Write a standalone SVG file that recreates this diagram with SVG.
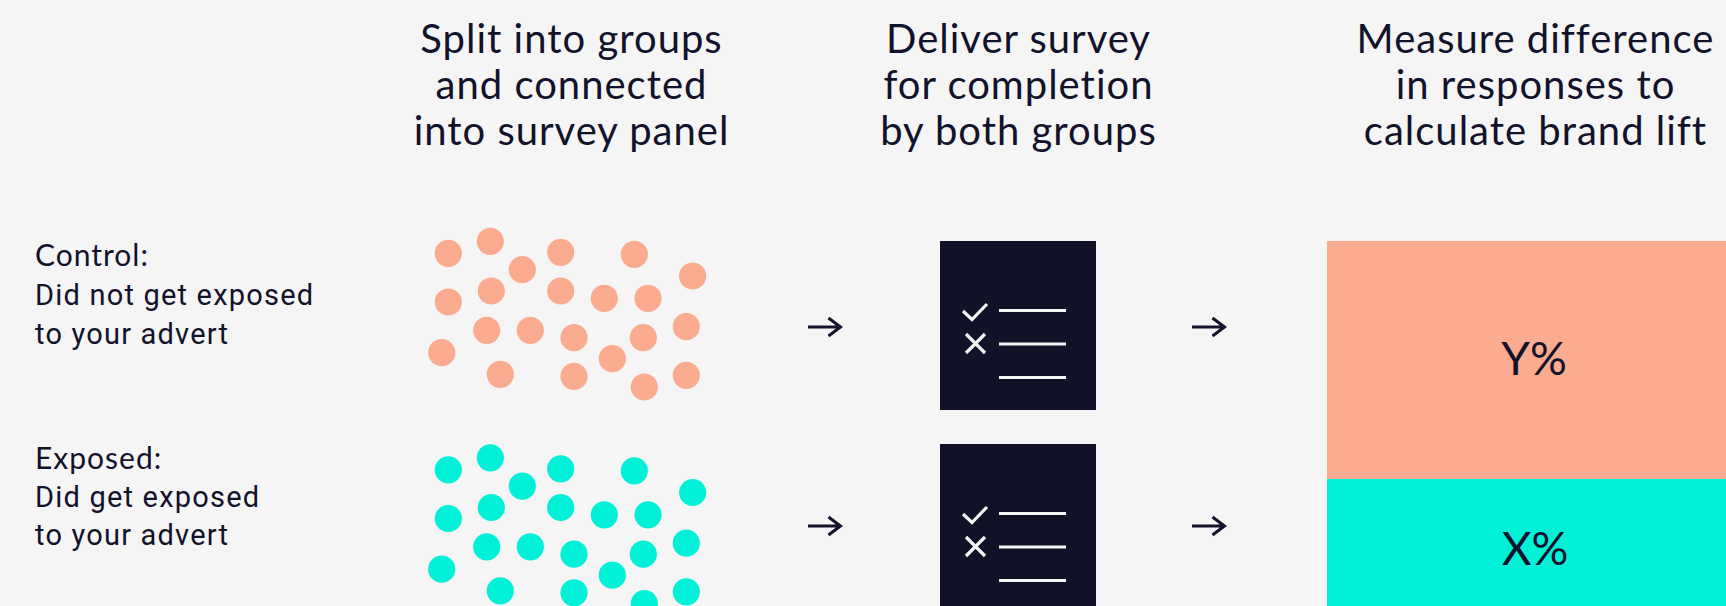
<svg xmlns="http://www.w3.org/2000/svg" width="1726" height="606" viewBox="0 0 1726 606">
<style>
.bg{fill:#f5f5f5}
.title{font-family:Lato,"Open Sans",sans-serif;font-size:40px;letter-spacing:1px;fill:#12122a;text-anchor:middle}
.head{font-family:Lato,"Open Sans",sans-serif;font-size:30px;letter-spacing:1px;fill:#12122a}
.body{font-family:Roboto,"Liberation Sans",sans-serif;font-size:29px;letter-spacing:1.2px;fill:#12122a}
.pct{font-family:Lato,"Open Sans",sans-serif;font-size:46px;fill:#12122a;text-anchor:middle}
.box{fill:#111128}
.ico{stroke:#f5f5f5;stroke-width:3.2;fill:none}
.arr{stroke:#12122a;stroke-width:3;fill:none}
.o{fill:#fbab8f}
.t{fill:#00f0d8}
</style>
<defs>
<g id="dots">
<circle cx="448.3" cy="253.3" r="13.6"/>
<circle cx="490.3" cy="241.3" r="13.6"/>
<circle cx="522.3" cy="269.7" r="13.6"/>
<circle cx="560.7" cy="252.3" r="13.6"/>
<circle cx="634.3" cy="254.3" r="13.6"/>
<circle cx="692.7" cy="276" r="13.6"/>
<circle cx="448.3" cy="302" r="13.6"/>
<circle cx="491.3" cy="291" r="13.6"/>
<circle cx="560.7" cy="291" r="13.6"/>
<circle cx="604.3" cy="298.3" r="13.6"/>
<circle cx="648" cy="298.3" r="13.6"/>
<circle cx="686.3" cy="326.7" r="13.6"/>
<circle cx="486.7" cy="330.3" r="13.6"/>
<circle cx="530.3" cy="330.3" r="13.6"/>
<circle cx="574" cy="337.7" r="13.6"/>
<circle cx="643.3" cy="337.7" r="13.6"/>
<circle cx="612.3" cy="358.7" r="13.6"/>
<circle cx="441.7" cy="352.7" r="13.6"/>
<circle cx="500.3" cy="374.3" r="13.6"/>
<circle cx="574" cy="376.3" r="13.6"/>
<circle cx="644.3" cy="387" r="13.6"/>
<circle cx="686.3" cy="375.3" r="13.6"/>
</g>
<g id="survey">
<rect class="box" x="0" y="0" width="156" height="169"/>
<path class="ico" d="M23 70 L32 78.5 L47 63"/>
<path class="ico" d="M26 93 L45 112 M45 93 L26 112"/>
<path class="ico" d="M59 69.5 H126 M59 103 H126 M59 136.5 H126"/>
</g>
</defs>
<rect class="bg" x="0" y="0" width="1726" height="606"/>

<g id="title-split">
<text class="title" x="571.5" y="53">Split into groups</text>
<text class="title" x="571.5" y="99">and connected</text>
<text class="title" x="571.5" y="145">into survey panel</text>
</g>
<g id="title-deliver">
<text class="title" x="1018.5" y="53">Deliver survey</text>
<text class="title" x="1018.5" y="99">for completion</text>
<text class="title" x="1018.5" y="145">by both groups</text>
</g>
<g id="title-measure">
<text class="title" x="1535.5" y="53">Measure difference</text>
<text class="title" x="1535.5" y="99">in responses to</text>
<text class="title" x="1535.5" y="145">calculate brand lift</text>
</g>

<g id="label-control">
<text class="head" x="35" y="266">Control:</text>
<text class="body" x="35" y="305">Did not get exposed</text>
<text class="body" x="35" y="344">to your advert</text>
</g>
<g id="label-exposed">
<text class="head" x="35" y="469">Exposed:</text>
<text class="body" x="35" y="507">Did get exposed</text>
<text class="body" x="35" y="545">to your advert</text>
</g>

<g id="dots-control" class="o"><use href="#dots"/></g>
<g id="dots-exposed" class="t"><use href="#dots" transform="translate(0,216.5)"/></g>

<g id="survey-control"><use href="#survey" transform="translate(940,241)"/></g>
<g id="survey-exposed"><use href="#survey" transform="translate(940,444)"/></g>

<g id="result">
<rect class="o" x="1327" y="241" width="399" height="238"/>
<rect class="t" x="1327" y="479" width="399" height="127"/>
<text class="pct" x="1534" y="375">Y%</text>
<text class="pct" x="1535" y="565">X%</text>
</g>

<g id="connectors">
<path class="arr" d="M808 327 H840 M828.5 318 L840.5 327 L828.5 336"/>
<path class="arr" d="M1192 327 H1224 M1212.5 318 L1224.5 327 L1212.5 336"/>
<path class="arr" d="M808 526 H840 M828.5 517 L840.5 526 L828.5 535"/>
<path class="arr" d="M1192 526 H1224 M1212.5 517 L1224.5 526 L1212.5 535"/>
</g>
</svg>
